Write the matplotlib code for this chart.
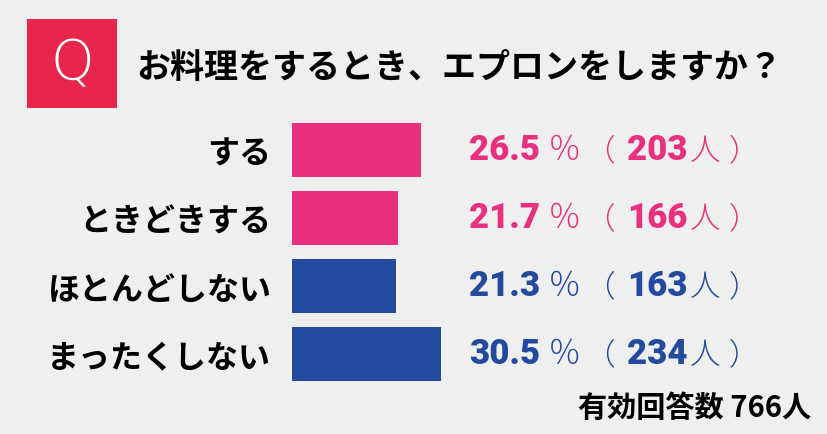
import matplotlib
matplotlib.use("Agg")
import matplotlib.pyplot as plt

plt.rcParams['font.family'] = ['Noto Sans CJK JP', 'DejaVu Sans']

categories = ["する", "ときどきする", "ほとんどしない", "まったくしない"]
percents = [26.5, 21.7, 21.3, 30.5]
counts = [203, 166, 163, 234]
title = "お料理をするとき、エプロンをしますか？"
total_label = "有効回答数 766人"

PINK = "#e8307f"
BLUE = "#234a9e"
colors = [PINK, PINK, BLUE, BLUE]
BG = "#efefef"

W, H = 828, 435
fig = plt.figure(figsize=(W / 100, H / 100), dpi=100, facecolor=BG)

def fx(px):
    return px / W

def fy(py):
    return 1 - py / H

# Q box
qax = fig.add_axes([fx(27), fy(109), fx(90), (89) / H])
qax.set_facecolor("#e8254b")
qax.set_xticks([]); qax.set_yticks([])
for s in qax.spines.values():
    s.set_visible(False)
qax.text(0.5, 0.5, "Q", color="white", fontsize=40, ha="center", va="center",
         family=["DejaVu Sans"], fontweight="light", transform=qax.transAxes)

fig.text(fx(136), fy(67), title, fontsize=24.5, fontweight="bold", color="black",
         ha="left", va="center")

# bars axes
top_px, row_px = 117, 68
ax_left = 292
px_per_pct = 4.87
ax_w = W - ax_left
ax = fig.add_axes([fx(ax_left), fy(top_px + row_px * 4), ax_w / W, row_px * 4 / H])
ax.set_facecolor("none")
ax.set_xlim(0, ax_w / px_per_pct)
ax.set_ylim(3.5, -0.5)
ypos = list(range(len(categories)))
ax.barh(ypos, percents, height=54 / row_px, color=colors, left=0)
ax.set_yticks(ypos)
ax.set_yticklabels(categories, fontsize=23, fontweight="bold")
ax.tick_params(axis="y", length=0, pad=15)
ax.set_xticks([])
for s in ax.spines.values():
    s.set_visible(False)

# value labels
num_font = ["Roboto", "DejaVu Sans"]
for i, (p, c, col) in enumerate(zip(percents, counts, colors)):
    def X(px):
        return (px - ax_left) / ax_w
    kw = dict(va="center", color=col, transform=ax.transAxes)
    yax = 1 - (i + 0.5) / 4
    ax.text(X(469), yax, f"{p:.1f}", fontsize=25, fontweight=900,
            family=num_font, ha="left", **kw)
    ax.text(X(565), yax, "％", fontsize=24, fontweight="light", ha="center", **kw)
    ax.text(X(599), yax, "（", fontsize=22, fontweight="light", ha="center", **kw)
    ax.text(X(657), yax, f"{c}", fontsize=25, fontweight=900,
            family=num_font, ha="center", **kw)
    ax.text(X(705), yax, "人", fontsize=22, fontweight="light", ha="center", **kw)
    ax.text(X(744), yax, "）", fontsize=22, fontweight="light", ha="center", **kw)

fig.text(fx(811), fy(408), total_label, fontsize=21, fontweight="bold",
         ha="right", va="center", color="black")

fig.savefig("out.png", dpi=100, facecolor=BG)
